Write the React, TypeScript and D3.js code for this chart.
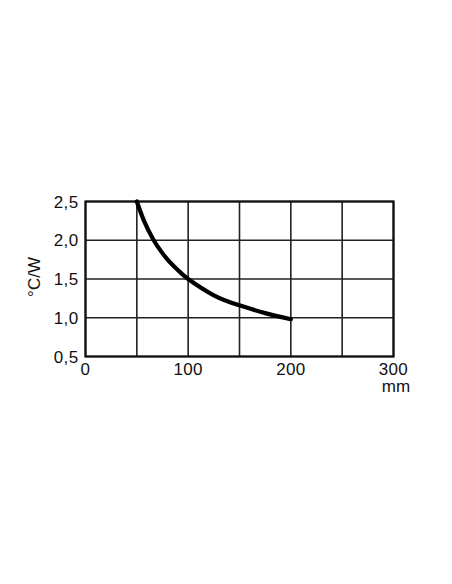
import React from "react";
import * as d3 from "d3";

const xTicks = [0, 100, 200, 300];
const yTicks = [0.5, 1.0, 1.5, 2.0, 2.5];
const xGrid = [0, 50, 100, 150, 200, 250, 300];
const curveX = [50, 57, 66, 74, 82, 92, 100, 125, 150, 175, 200];
const curveY = [2.5, 2.25, 2.01, 1.85, 1.72, 1.59, 1.5, 1.29, 1.16, 1.06, 0.98];
const xUnit = "mm";
const yLabel = "°C/W";

export default function App() {
  const W = 452, H = 584;
  const left = 85.5, right = 393.5, top = 201.5, bottom = 356.5;
  const x = d3.scaleLinear().domain([0, 300]).range([left, right]);
  const y = d3.scaleLinear().domain([0.5, 2.5]).range([bottom, top]);
  const pts = curveX.map((v, i) => [v, curveY[i]] as [number, number]);
  const line = d3.line<[number, number]>().x(d => x(d[0])).y(d => y(d[1])).curve(d3.curveNatural);
  const font = "Liberation Sans, Arial, sans-serif";
  const fmt = (v: number) => v.toFixed(1).replace(".", ",");
  return (
    <svg width={W} height={H} style={{ position: "absolute", left: 0, top: 0, background: "#fff" }}>
      <rect x={0} y={0} width={W} height={H} fill="#fff" />
      {xGrid.map(v => (
        <line key={"gx" + v} x1={x(v)} x2={x(v)} y1={top} y2={bottom} stroke="#222" strokeWidth={1.6} />
      ))}
      {yTicks.map(v => (
        <line key={"gy" + v} x1={left} x2={right} y1={y(v)} y2={y(v)} stroke="#222" strokeWidth={1.6} />
      ))}
      <rect x={left} y={top} width={right - left} height={bottom - top} fill="none" stroke="#111" strokeWidth={2.2} />
      <path d={line(pts) || ""} fill="none" stroke="#000" strokeWidth={4.2} strokeLinecap="round" />
      {yTicks.map(v => (
        <text key={"ty" + v} x={left - 7} y={y(v)} dy="0.36em" textAnchor="end" fontFamily={font} fontSize={17} letterSpacing={0.4} fill="#111">
          {fmt(v)}
        </text>
      ))}
      {xTicks.map(v => (
        <text key={"tx" + v} x={x(v)} y={bottom + 18.5} textAnchor="middle" fontFamily={font} fontSize={17} letterSpacing={0.3} fill="#111">
          {v}
        </text>
      ))}
      <text x={x(300) + 2.5} y={bottom + 35.5} textAnchor="middle" fontFamily={font} fontSize={17} fill="#111">{xUnit}</text>
      <text transform={`translate(39.5,${(top + bottom) / 2 - 2}) rotate(-90)`} textAnchor="middle" fontFamily={font} fontSize={17} fill="#111">
        {yLabel}
      </text>
    </svg>
  );
}
